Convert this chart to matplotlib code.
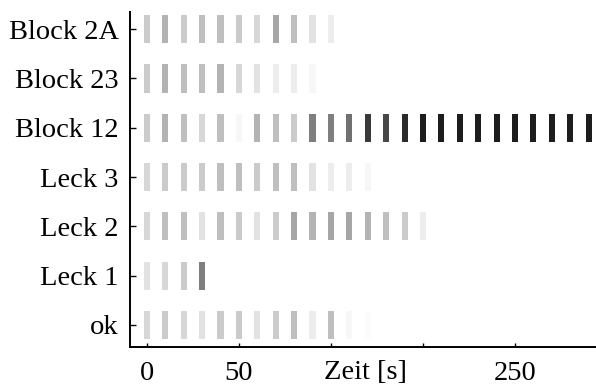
import numpy as np
import matplotlib
matplotlib.use("Agg")
import matplotlib.pyplot as plt

plt.rcParams['font.family'] = ['Liberation Serif', 'DejaVu Serif']

# Klassen (von unten nach oben)
klassen = ["ok", "Leck 1", "Leck 2", "Leck 3", "Block 12", "Block 23", "Block 2A"]

# Zeitpunkte der Klassifikation [s]
zeit = np.arange(0, 250, 10)

# Zugehoerigkeitsgrad je Klasse und Zeitpunkt (0 = weiss, 1 = schwarz)
ok_werte      = [0.20, 0.25, 0.20, 0.15, 0.25, 0.25, 0.15, 0.25, 0.30, 0.10, 0.30, 0.05, 0.02] + [0] * 12
leck1_werte   = [0.15, 0.20, 0.25, 0.55] + [0] * 21
leck2_werte   = [0.20, 0.30, 0.30, 0.15, 0.30, 0.25, 0.15, 0.25, 0.40, 0.35, 0.40, 0.40, 0.35,
                 0.30, 0.25, 0.10] + [0] * 9
leck3_werte   = [0.20, 0.25, 0.25, 0.25, 0.30, 0.30, 0.25, 0.30, 0.30, 0.15, 0.10, 0.10, 0.05] + [0] * 12
block12_werte = [0.25, 0.35, 0.30, 0.20, 0.30, 0.05, 0.35, 0.30, 0.25, 0.55, 0.55, 0.60, 0.80,
                 0.75, 0.85, 0.90, 0.90, 0.90, 0.90, 0.90, 0.90, 0.90, 0.90, 0.90, 0.90]
block23_werte = [0.25, 0.35, 0.30, 0.30, 0.35, 0.20, 0.15, 0.10, 0.10, 0.05] + [0] * 15
block2a_werte = [0.25, 0.35, 0.25, 0.30, 0.30, 0.25, 0.20, 0.40, 0.30, 0.15, 0.10] + [0] * 14

werte = [ok_werte, leck1_werte, leck2_werte, leck3_werte, block12_werte, block23_werte, block2a_werte]

x_ticks = [0, 50, 100, 150, 200]
x_tick_labels = ["0", "50", "", "", "250"]

fig = plt.figure(figsize=(5.96, 3.86), dpi=100)
ax = fig.add_axes([0.218, 0.101, 0.782, 0.868])

for i, reihe in enumerate(werte):
    for t, v in zip(zeit, reihe):
        if v <= 0:
            continue
        # etwas heller, wie der gerasterte Ausdruck
        grau = str(1 - v ** 1.15)
        ax.bar(t, 0.57, bottom=i - 0.285, width=3.3, color=grau, edgecolor='none')

ax.set_xlim(-9.2, 244)
ax.set_ylim(-0.45, 6.35)
ax.set_yticks(range(len(klassen)))
ax.set_yticklabels(klassen, fontsize=20.5)
ax.set_xticks(x_ticks)
ax.set_xticklabels(x_tick_labels, fontsize=20.5)
ax.tick_params(axis='y', direction='in', length=4, width=1, pad=8)
ax.tick_params(axis='x', direction='in', length=3, width=1, pad=10)

ax.spines['top'].set_visible(False)
ax.spines['right'].set_visible(False)
ax.spines['left'].set_linewidth(1.4)
ax.spines['bottom'].set_linewidth(1.4)

ax.set_xlabel("Zeit [s]", fontsize=20.5)
ax.xaxis.set_label_coords(0.506, -0.038, transform=ax.transAxes)
ax.xaxis.label.set_va('top')

fig.savefig("out.png", dpi=100)
